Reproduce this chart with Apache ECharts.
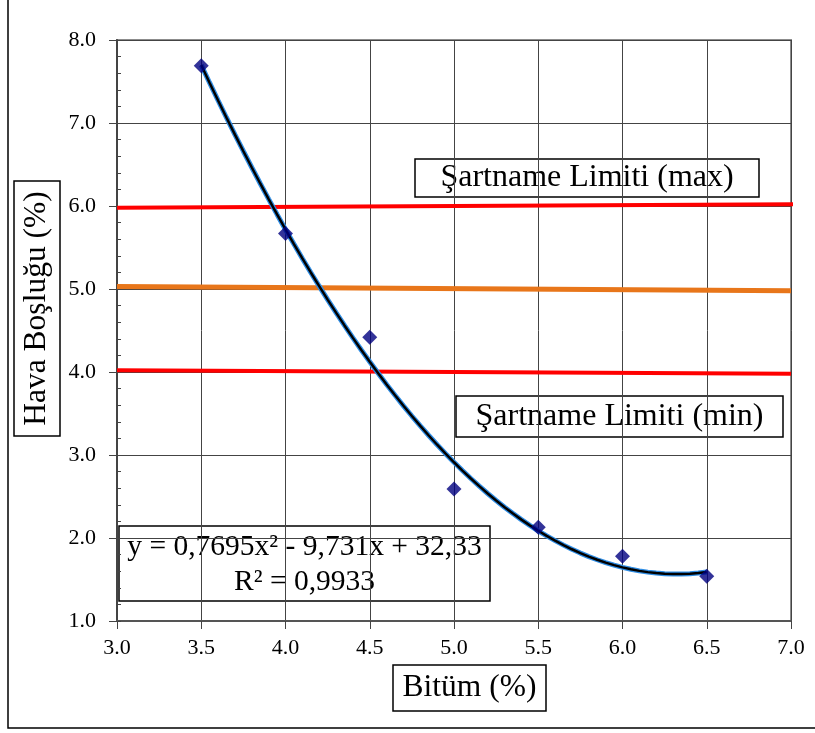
<!DOCTYPE html>
<html>
<head>
<meta charset="utf-8">
<script src="https://cdn.jsdelivr.net/npm/echarts@6/dist/echarts.min.js"></script>
<style>
  html, body { margin: 0; padding: 0; background: #fff; }
  #chart { width: 815px; height: 733px; }
</style>
</head>
<body>
<div id="chart"></div>
<script>
// Bitumen content (%) and measured air voids (%)
const bitumen = [3.5, 4.0, 4.5, 5.0, 5.5, 6.0, 6.5];
const airVoids = [7.69, 5.67, 4.42, 2.59, 2.13, 1.78, 1.54];

// Second-order trend: y = a x^2 + b x + c (coefficients as printed in the label)
const trendCoef = [0.7695, -9.731, 32.33];
const trendText = ['y = 0,7695x² - 9,731x + 32,33', 'R² = 0,9933'];

// Specification limits and target line (two end points each)
const limitMax = [[3.0, 5.98], [7.02, 6.02]];
const targetLine = [[3.0, 5.03], [7.0, 4.98]];
const limitMin = [[3.0, 4.02], [7.0, 3.98]];

const xRange = [3.0, 7.0];
const yRange = [1.0, 8.0];

const labelMax = 'Şartname Limiti (max)';
const labelMin = 'Şartname Limiti (min)';
const xTitle = 'Bitüm (%)';
const yTitle = 'Hava Boşluğu (%)';

const FONT = '"Liberation Serif", "Times New Roman", serif';

const pointData = bitumen.map((x, i) => [x, airVoids[i]]);
const trendData = [];
for (let k = 0; k <= 60; k++) {
  const x = bitumen[0] + k * (bitumen[bitumen.length - 1] - bitumen[0]) / 60;
  trendData.push([x, trendCoef[0] * x * x + trendCoef[1] * x + trendCoef[2]]);
}

const chart = echarts.init(document.getElementById('chart'));

function boxedText(cx, cy, w, h, text, size, rotate) {
  return {
    type: 'group',
    z: 100,
    children: [
      {
        type: 'rect',
        shape: { x: cx - w / 2, y: cy - h / 2, width: w, height: h },
        style: { fill: '#fff', stroke: '#000', lineWidth: 1.5 }
      },
      {
        type: 'text',
        x: cx, y: cy,
        rotation: rotate ? Math.PI / 2 : 0,
        style: {
          text: text, x: 0, y: 0,
          fill: '#000', font: size + 'px ' + FONT,
          textAlign: 'center', textVerticalAlign: 'middle'
        }
      }
    ]
  };
}

chart.setOption({
  animation: false,
  backgroundColor: '#fff',
  grid: {
    left: 117, top: 40, right: 24, bottom: 112,
    show: true, borderColor: '#8c8c8c', borderWidth: 2, backgroundColor: 'transparent'
  },
  xAxis: {
    type: 'value', min: xRange[0], max: xRange[1], interval: 0.5,
    axisLine: { show: true, onZero: false, lineStyle: { color: '#555', width: 2 } },
    axisTick: { show: true, length: 8, lineStyle: { color: '#444', width: 1 } },
    axisLabel: {
      margin: 16, color: '#000', fontFamily: FONT, fontSize: 22,
      formatter: v => v.toFixed(1)
    },
    splitLine: { show: true, lineStyle: { color: '#444', width: 1 } }
  },
  yAxis: [
    {
      type: 'value', min: yRange[0], max: yRange[1], interval: 1,
      axisLine: { show: true, onZero: false, lineStyle: { color: '#444', width: 2 } },
      axisTick: { show: true, length: 8, lineStyle: { color: '#444', width: 1 } },
      axisLabel: {
        margin: 21, color: '#000', fontFamily: FONT, fontSize: 22,
        formatter: v => v.toFixed(1)
      },
      splitLine: { show: true, lineStyle: { color: '#444', width: 1 } }
    },
    {
      // minor ticks drawn on the inside of the left axis
      type: 'value', position: 'left', min: yRange[0], max: yRange[1], interval: 0.2,
      axisLine: { show: false },
      axisTick: { show: true, inside: true, length: 4, lineStyle: { color: '#444', width: 1 } },
      axisLabel: { show: false },
      splitLine: { show: false }
    }
  ],
  series: [
    {
      type: 'line', data: limitMax, symbol: 'none', clip: false, z: 3,
      lineStyle: { color: '#ff0000', width: 4 }
    },
    {
      type: 'line', data: targetLine, symbol: 'none', z: 3,
      lineStyle: { color: '#e8761a', width: 5 }
    },
    {
      type: 'line', data: limitMin, symbol: 'none', z: 3,
      lineStyle: { color: '#ff0000', width: 4 }
    },
    {
      type: 'line', data: trendData, symbol: 'none', smooth: false, z: 4,
      lineStyle: { color: '#2f8de4', width: 5 }
    },
    {
      type: 'line', data: trendData, symbol: 'none', smooth: false, z: 5,
      lineStyle: { color: '#000', width: 2.5 }
    },
    {
      type: 'scatter', data: pointData, symbol: 'diamond', symbolSize: 15, z: 6,
      itemStyle: { color: '#000080' }
    }
  ],
  graphic: [
    {
      type: 'rect', z: 0, silent: true,
      shape: { x: 8, y: -10, width: 830, height: 738 },
      style: { fill: 'none', stroke: '#000', lineWidth: 1.5 }
    },
    boxedText(587, 178, 344, 38, labelMax, 32, false),
    boxedText(619.5, 416.5, 327, 41, labelMin, 32, false),
    boxedText(469.5, 688, 153, 46, xTitle, 31.5, false),
    boxedText(37, 308.5, 46, 255, yTitle, 31.5, true),
    {
      type: 'group', z: 100,
      children: [
        {
          type: 'rect',
          shape: { x: 119, y: 526, width: 371, height: 75 },
          style: { fill: '#fff', stroke: '#000', lineWidth: 1.5 }
        },
        {
          type: 'text', x: 304.5, y: 547,
          style: {
            text: trendText[0], x: 0, y: 0, fill: '#000', font: '29.5px ' + FONT,
            textAlign: 'center', textVerticalAlign: 'middle'
          }
        },
        {
          type: 'text', x: 304.5, y: 582,
          style: {
            text: trendText[1], x: 0, y: 0, fill: '#000', font: '29.5px ' + FONT,
            textAlign: 'center', textVerticalAlign: 'middle'
          }
        }
      ]
    }
  ]
});
</script>
</body>
</html>
